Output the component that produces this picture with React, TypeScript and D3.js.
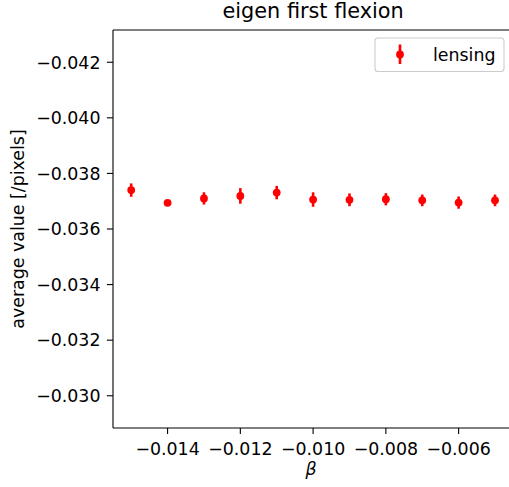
import React from "react";
import * as d3 from "d3";

const betas = [-0.015, -0.014, -0.013, -0.012, -0.011, -0.01, -0.009, -0.008, -0.007, -0.006, -0.005];
const values = [-0.0374, -0.03694, -0.0371, -0.03719, -0.03731, -0.03706, -0.03705, -0.03707, -0.03703, -0.03695, -0.03703];
const errors = [0.00024, 0.0001, 0.00022, 0.00028, 0.00024, 0.00026, 0.00023, 0.00022, 0.00021, 0.00022, 0.00021];
const xTicks = [-0.014, -0.012, -0.01, -0.008, -0.006];
const yTicks = [-0.042, -0.04, -0.038, -0.036, -0.034, -0.032, -0.03];
const seriesName = "lensing";
const title = "eigen first flexion";
const xLabel = "β";
const yLabel = "average value [/pixels]";

const W = 509;
const H = 487;
const L = 113;
const R = 513.2;
const T = 30;
const B = 428;
const FONT = "DejaVu Sans, sans-serif";
const FS = 17.4;
const RED = "#ff0000";

const fmt = (v: number) => d3.format(".3f")(v).replace("-", "\u2212");

export default function App() {
  const x = d3.scaleLinear().domain([-0.0155, -0.0045]).range([L, R]);
  const y = d3.scaleLinear().domain([-0.04316, -0.02884]).range([T, B]);
  const tick = 6.1;
  return (
    <svg
      width={W}
      height={H}
      style={{ position: "absolute", left: 0, top: 0, background: "#fff" }}
      fontFamily={FONT}
    >
      <rect x={0} y={0} width={W} height={H} fill="#fff" />
      {betas.map((b, i) => (
        <g key={i}>
          <line
            x1={x(b)}
            x2={x(b)}
            y1={y(values[i] - errors[i])}
            y2={y(values[i] + errors[i])}
            stroke={RED}
            strokeWidth={2.6}
          />
          <circle cx={x(b)} cy={y(values[i])} r={3.9} fill={RED} />
        </g>
      ))}
      <g stroke="#000" strokeWidth={1.1} fill="none">
        <line x1={L} x2={L} y1={T} y2={B} />
        <line x1={L} x2={R} y1={T} y2={T} />
        <line x1={L} x2={R} y1={B} y2={B} />
        <line x1={R} x2={R} y1={T} y2={B} />
      </g>
      {xTicks.map((t) => (
        <g key={t}>
          <line x1={x(t)} x2={x(t)} y1={B} y2={B + tick} stroke="#000" strokeWidth={1.1} />
          <text x={x(t)} y={455} textAnchor="middle" fontSize={FS} fill="#000">
            {fmt(t)}
          </text>
        </g>
      ))}
      {yTicks.map((t) => (
        <g key={t}>
          <line x1={L - tick} x2={L} y1={y(t)} y2={y(t)} stroke="#000" strokeWidth={1.1} />
          <text x={100.5} y={y(t) + 6.3} textAnchor="end" fontSize={FS} fill="#000">
            {fmt(t)}
          </text>
        </g>
      ))}
      <text x={(L + R) / 2} y={18} textAnchor="middle" fontSize={20.8} fill="#000">
        {title}
      </text>
      <text x={311} y={475} textAnchor="middle" fontSize={FS} fontStyle="italic" fill="#000">
        {xLabel}
      </text>
      <text
        transform={`translate(24, ${(T + B) / 2}) rotate(-90)`}
        textAnchor="middle"
        fontSize={FS}
        fill="#000"
      >
        {yLabel}
      </text>
      <g>
        <rect x={375} y={38} width={129} height={33.5} rx={3} fill="#fff" fillOpacity={0.8} stroke="#cccccc" strokeWidth={1.1} />
        <line x1={400} x2={400} y1={44.5} y2={64} stroke={RED} strokeWidth={2.6} />
        <circle cx={400} cy={54.5} r={3.9} fill={RED} />
        <text x={433} y={60.5} fontSize={FS} fill="#000">
          {seriesName}
        </text>
      </g>
    </svg>
  );
}
